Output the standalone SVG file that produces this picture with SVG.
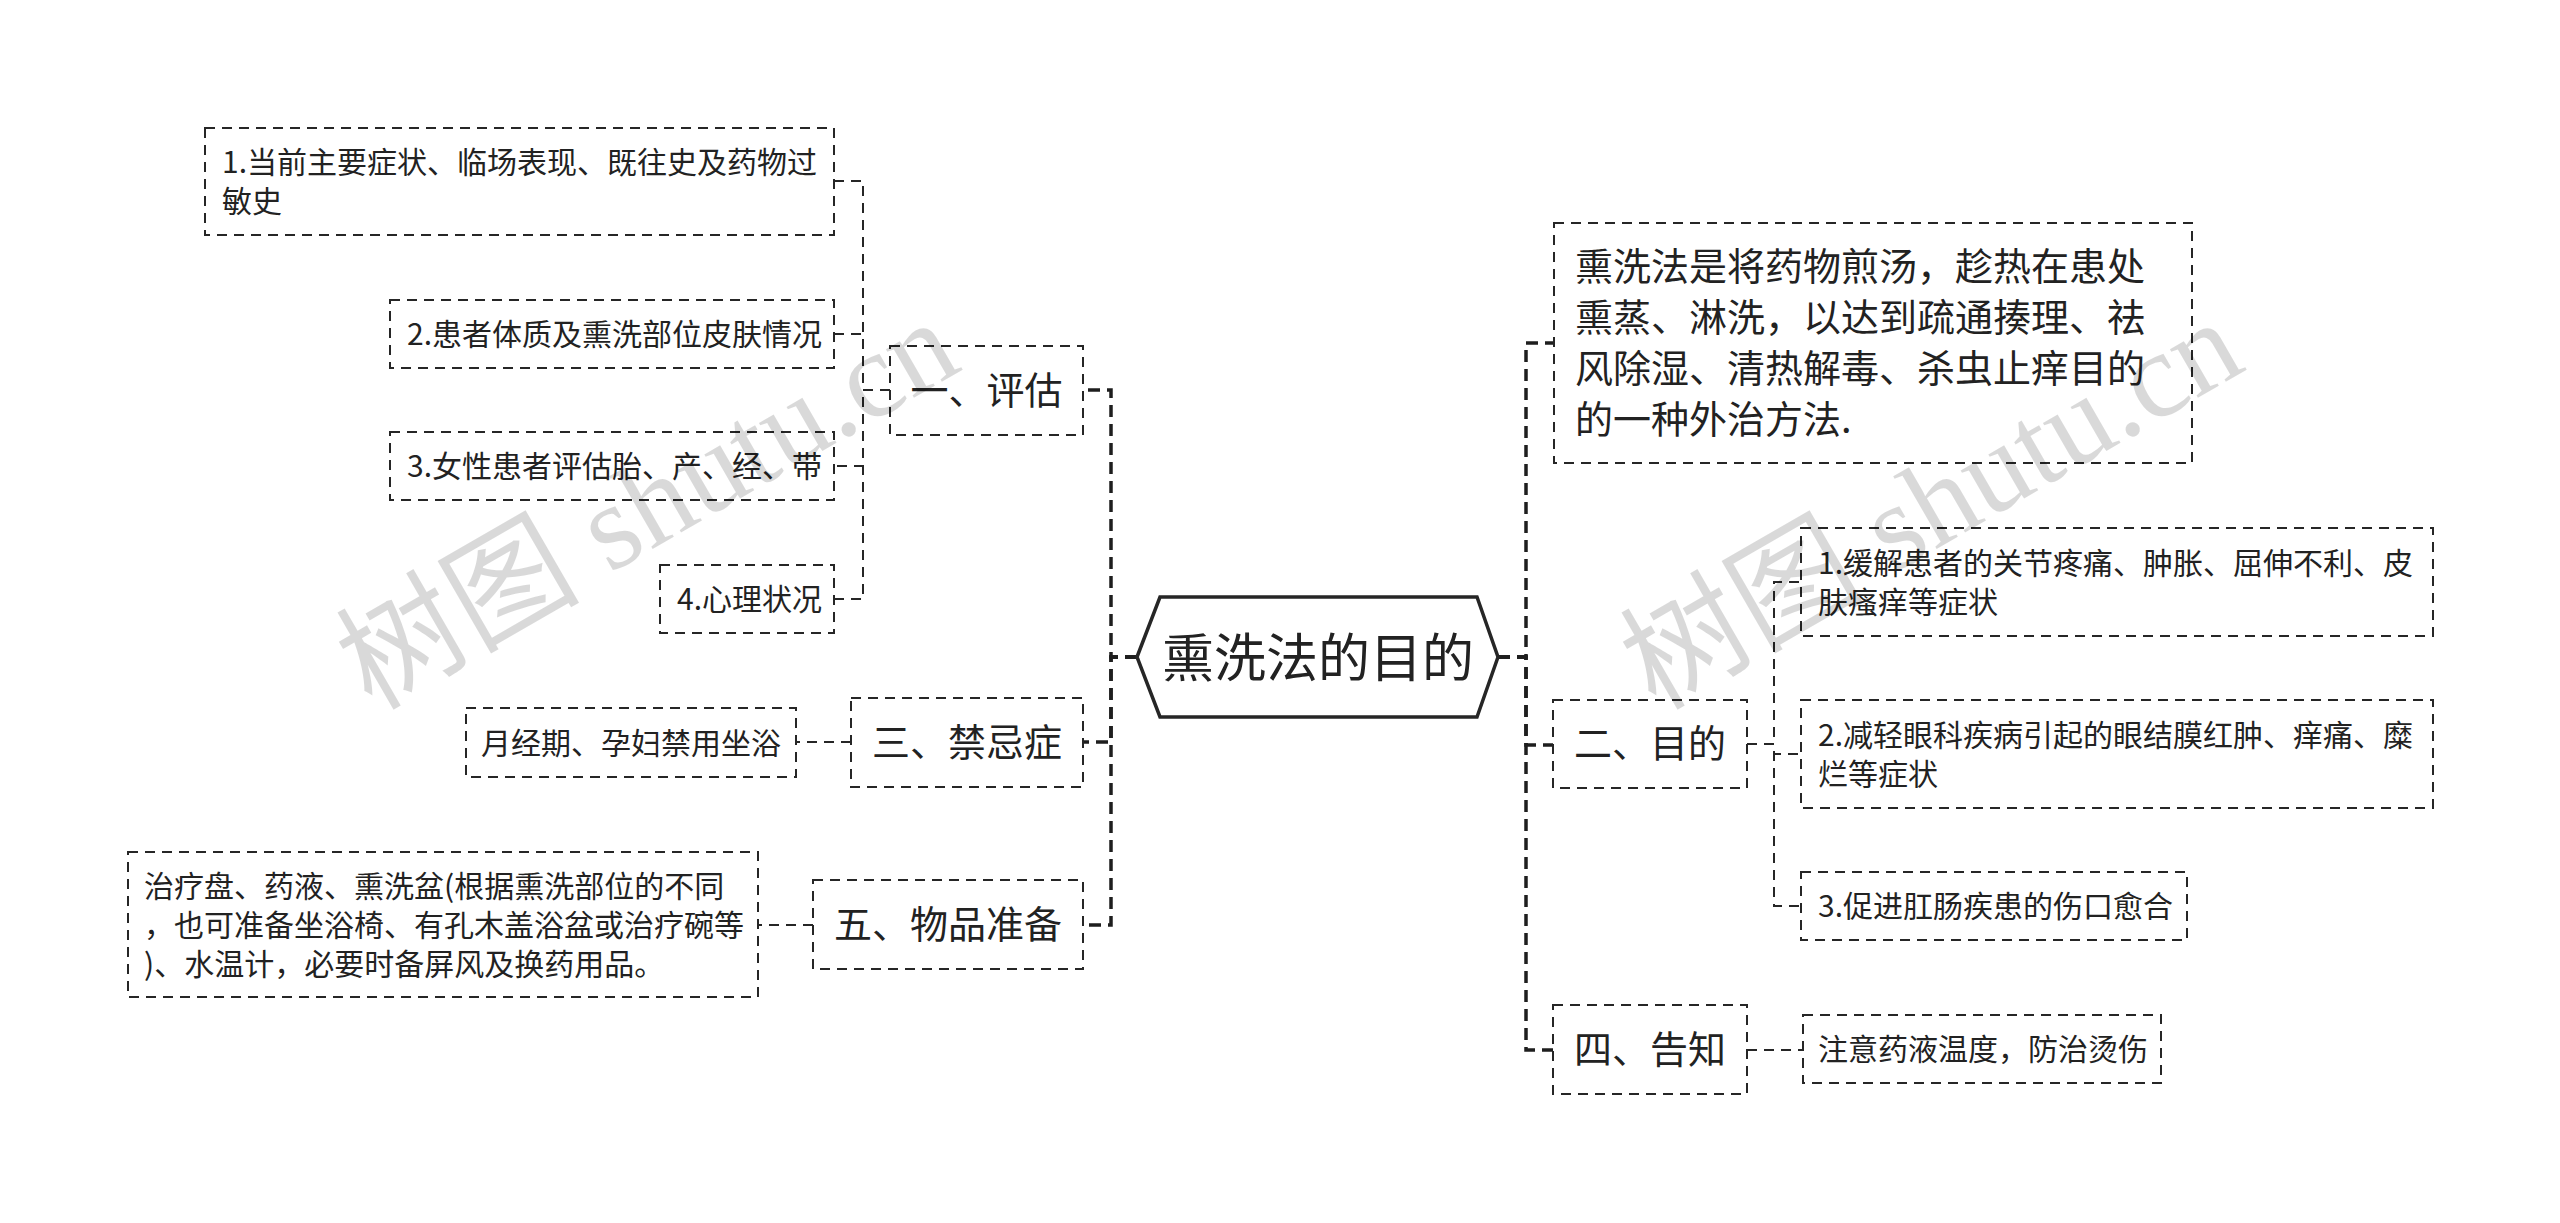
<svg xmlns="http://www.w3.org/2000/svg" width="2560" height="1223" viewBox="0 0 2560 1223">
<style>
.bg{fill:#ffffff}
.box{fill:#ffffff;stroke:#262626;stroke-width:2;stroke-dasharray:10 7}
.hex{fill:#ffffff;stroke:#262626;stroke-width:3.5;stroke-linejoin:miter}
.t{font-family:"Noto Sans CJK SC","Noto Sans",sans-serif;fill:#222222}
.t30{font-size:30px}
.t38{font-size:38px}
.t52{font-size:52px}
.mid{text-anchor:middle}
.main{fill:none;stroke:#1e1e1e;stroke-width:3.5;stroke-dasharray:12 7}
.sub{fill:none;stroke:#262626;stroke-width:2;stroke-dasharray:10 7}
.wm{font-family:"Liberation Serif","Noto Sans CJK SC",serif;font-size:122px;fill:#000000;fill-opacity:0.15}
</style>
<rect class="bg" x="0" y="0" width="2560" height="1223"/>
<g id="connectors">
  <path class="main" d="M1137 657 H1111 V390 H1083"/>
  <path class="main" d="M1137 657 H1111 V742 H1083"/>
  <path class="main" d="M1137 657 H1111 V925 H1083"/>
  <path class="main" d="M1498 657 H1526 V343 H1554"/>
  <path class="main" d="M1498 657 H1526 V745 H1553"/>
  <path class="main" d="M1498 657 H1526 V1050 H1553"/>
  <path class="sub" d="M890 390 H863 V181 H834"/>
  <path class="sub" d="M890 390 H863 V334 H834"/>
  <path class="sub" d="M890 390 H863 V466 H834"/>
  <path class="sub" d="M890 390 H863 V599 H834"/>
  <path class="sub" d="M851 742 H796"/>
  <path class="sub" d="M813 925 H758"/>
  <path class="sub" d="M1747 744 H1774 V582 H1801"/>
  <path class="sub" d="M1747 744 H1774 V754 H1801"/>
  <path class="sub" d="M1747 744 H1774 V906 H1801"/>
  <path class="sub" d="M1747 1050 H1803"/>
</g>
<g id="root">
  <polygon class="hex" points="1137,657 1160,597 1477,597 1498,657 1477,717 1160,717"/>
  <text class="t t52 mid" x="1318" y="677">熏洗法的目的</text>
</g>
<g id="n-pinggu">
  <rect class="box" x="890" y="346" width="193" height="89"/>
  <text class="t t38 mid" x="986.5" y="404">一、评估</text>
</g>
<g id="n-jinji">
  <rect class="box" x="851" y="698" width="232" height="89"/>
  <text class="t t38 mid" x="967" y="756">三、禁忌症</text>
</g>
<g id="n-wupin">
  <rect class="box" x="813" y="880" width="270" height="89"/>
  <text class="t t38 mid" x="948" y="938">五、物品准备</text>
</g>
<g id="n-mudi">
  <rect class="box" x="1553" y="700" width="194" height="88"/>
  <text class="t t38 mid" x="1650" y="757">二、目的</text>
</g>
<g id="n-gaozhi">
  <rect class="box" x="1553" y="1005" width="194" height="89"/>
  <text class="t t38 mid" x="1650" y="1063">四、告知</text>
</g>
<g id="n-pg1">
  <rect class="box" x="205" y="128" width="629" height="107"/>
  <text class="t t30" x="222" y="173">1.当前主要症状、临场表现、既往史及药物过</text>
  <text class="t t30" x="222" y="212">敏史</text>
</g>
<g id="n-pg2">
  <rect class="box" x="390" y="300" width="444" height="68"/>
  <text class="t t30" x="407" y="345">2.患者体质及熏洗部位皮肤情况</text>
</g>
<g id="n-pg3">
  <rect class="box" x="390" y="432" width="444" height="68"/>
  <text class="t t30" x="407" y="477">3.女性患者评估胎、产、经、带</text>
</g>
<g id="n-pg4">
  <rect class="box" x="660" y="565" width="174" height="68"/>
  <text class="t t30" x="677" y="610">4.心理状况</text>
</g>
<g id="n-jj1">
  <rect class="box" x="466" y="708" width="330" height="69"/>
  <text class="t t30" x="481" y="754">月经期、孕妇禁用坐浴</text>
</g>
<g id="n-wp1">
  <rect class="box" x="128" y="852" width="630" height="145"/>
  <text class="t t30" x="144" y="897">治疗盘、药液、熏洗盆(根据熏洗部位的不同</text>
  <text class="t t30" x="144" y="936">，也可准备坐浴椅、有孔木盖浴盆或治疗碗等</text>
  <text class="t t30" x="144" y="975">)、水温计，必要时备屏风及换药用品。</text>
</g>
<g id="n-desc">
  <rect class="box" x="1554" y="223" width="638" height="240"/>
  <text class="t t38" x="1575" y="280">熏洗法是将药物煎汤，趁热在患处</text>
  <text class="t t38" x="1575" y="331">熏蒸、淋洗，以达到疏通揍理、祛</text>
  <text class="t t38" x="1575" y="382">风除湿、清热解毒、杀虫止痒目的</text>
  <text class="t t38" x="1575" y="433">的一种外治方法.</text>
</g>
<g id="n-md1">
  <rect class="box" x="1801" y="528" width="632" height="108"/>
  <text class="t t30" x="1818" y="574">1.缓解患者的关节疼痛、肿胀、屈伸不利、皮</text>
  <text class="t t30" x="1818" y="613">肤瘙痒等症状</text>
</g>
<g id="n-md2">
  <rect class="box" x="1801" y="700" width="632" height="108"/>
  <text class="t t30" x="1818" y="746">2.减轻眼科疾病引起的眼结膜红肿、痒痛、糜</text>
  <text class="t t30" x="1818" y="785">烂等症状</text>
</g>
<g id="n-md3">
  <rect class="box" x="1801" y="872" width="386" height="68"/>
  <text class="t t30" x="1818" y="917">3.促进肛肠疾患的伤口愈合</text>
</g>
<g id="n-gz1">
  <rect class="box" x="1803" y="1015" width="358" height="68"/>
  <text class="t t30" x="1818" y="1060">注意药液温度，防治烫伤</text>
</g>
<g id="watermark">
  <text class="wm mid" transform="translate(668 540) rotate(-30)">树图 shutu.cn</text>
  <text class="wm mid" transform="translate(1952 540) rotate(-30)">树图 shutu.cn</text>
</g>
</svg>
